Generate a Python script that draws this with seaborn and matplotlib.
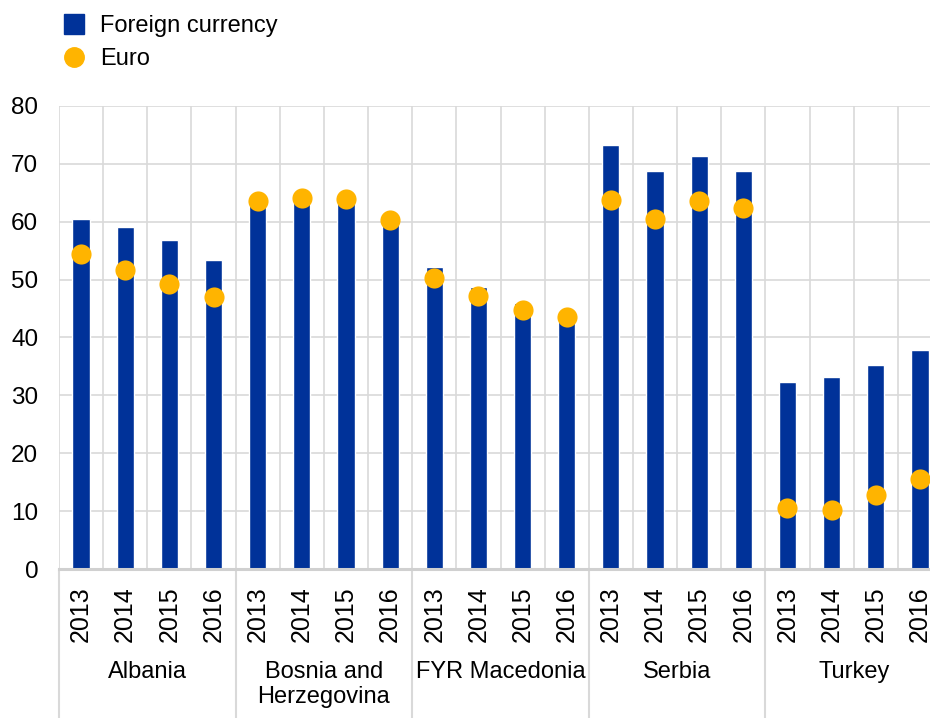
import numpy as np
import pandas as pd
import matplotlib
matplotlib.use("Agg")
import matplotlib.pyplot as plt
import seaborn as sns
from matplotlib.lines import Line2D

# ─── Data ────────────────────────────────────────────────
countries = ["Albania", "Bosnia and\nHerzegovina", "FYR Macedonia", "Serbia", "Turkey"]
years = ["2013", "2014", "2015", "2016"]

foreign_currency = [
    60.5, 59.1, 56.8, 53.4,   # Albania
    63.3, 63.8, 63.6, 59.9,   # Bosnia and Herzegovina
    52.1, 48.8, 45.9, 43.6,   # FYR Macedonia
    73.3, 68.8, 71.3, 68.8,   # Serbia
    32.4, 33.1, 35.3, 37.8,   # Turkey
]
euro = [
    54.4, 51.6, 49.3, 47.0,
    63.5, 64.0, 63.9, 60.2,
    50.3, 47.1, 44.7, 43.5,
    63.7, 60.4, 63.5, 62.3,
    10.6, 10.2, 12.8, 15.6,
]

# ─── Style ────────────────────────────────────────────────
BLUE = "#003299"
YELLOW = "#FFB400"
GRID = "#d9d9d9"

sns.set_theme(style="white")
plt.rcParams["font.family"] = ["Liberation Sans", "DejaVu Sans"]
plt.rcParams.update({
    "text.color": "black",
    "xtick.color": "black",
    "ytick.color": "black",
})

df = pd.DataFrame({
    "country": np.repeat(countries, len(years)),
    "year": years * len(countries),
    "Foreign currency": foreign_currency,
    "Euro": euro,
})
df["slot"] = df["country"] + "|" + df["year"]
order = list(df["slot"])

fig = plt.figure(figsize=(9.30, 7.18), dpi=100)
ax = fig.add_axes([59 / 930, 148.7 / 718, 883 / 930, 463.6 / 718])

sns.barplot(data=df, x="slot", y="Foreign currency", order=order,
            color=BLUE, width=0.39, saturation=1, ax=ax, zorder=2)
sns.stripplot(data=df, x="slot", y="Euro", order=order, jitter=False,
              color=YELLOW, size=14.5, linewidth=0, ax=ax, zorder=3)

n = len(order)
ax.set_xlim(-0.5, n - 0.5)
ax.set_ylim(0, 80)
ax.set_yticks(np.arange(0, 81, 10))
ax.set_xlabel("")
ax.set_ylabel("")

# grid
for y in np.arange(10, 81, 10):
    ax.axhline(y, color=GRID, lw=1.2, zorder=0)
for k in range(n + 1):
    ax.axvline(k - 0.5, color=GRID, lw=1.2, zorder=0)

for s in ["top", "right", "left"]:
    ax.spines[s].set_visible(False)
ax.spines["bottom"].set_color("#d0d0d0")
ax.spines["bottom"].set_linewidth(2.2)

ax.set_xticks(range(n))
ax.set_xticklabels(df["year"], rotation=90, fontsize=18)
ax.tick_params(axis="x", length=0, pad=12)
ax.tick_params(axis="y", length=0, pad=15, labelsize=17.5)

# group separators + labels below axis
trans = ax.get_xaxis_transform()
for g in range(len(countries) + 1):
    x = g * len(years) - 0.5
    ax.plot([x, x], [0, -0.33], color=GRID, lw=1.5, transform=trans,
            clip_on=False, zorder=1)
for g, c in enumerate(countries):
    xc = g * len(years) + (len(years) - 1) / 2
    ax.text(xc, -0.198, c, transform=trans, ha="center", va="top",
            fontsize=17, linespacing=1.15)

# legend
handles = [
    Line2D([], [], marker="s", color=BLUE, linestyle="none", markersize=15),
    Line2D([], [], marker="o", color=YELLOW, linestyle="none", markersize=14),
]
fig.legend(handles, ["Foreign currency", "Euro"], loc="upper left",
           bbox_to_anchor=(52 / 930, 1 - 6 / 718), frameon=False,
           fontsize=17, handletextpad=0.55, labelspacing=0.45,
           handlelength=1.1, borderaxespad=0)

fig.savefig("out.png", dpi=100)
